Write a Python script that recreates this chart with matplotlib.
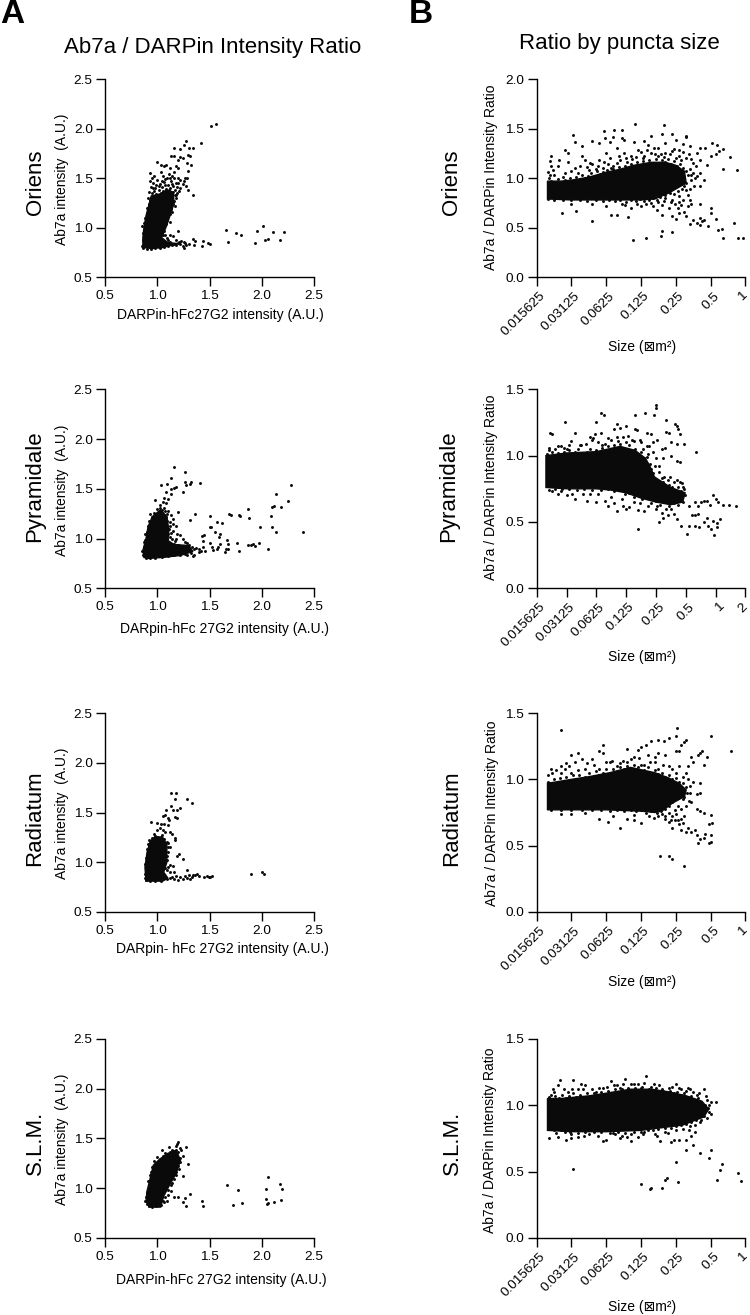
import numpy as np
import matplotlib
matplotlib.use("Agg")
import matplotlib.pyplot as plt
from matplotlib.transforms import ScaledTranslation

plt.rcParams['font.family'] = ['Liberation Sans', 'DejaVu Sans']

W, H = 750, 1315

row_names = ['Oriens', 'Pyramidale', 'Radiatum', 'S.L.M.']
a_xlabels = ['DARPin-hFc27G2 intensity (A.U.)', 'DARpin-hFc 27G2 intensity (A.U.)',
             'DARpin- hFc 27G2 intensity (A.U.)', 'DARPin-hFc 27G2 intensity (A.U.)']
a_ticks = [0.5, 1.0, 1.5, 2.0, 2.5]
b_size_labels = ['0.015625', '0.03125', '0.0625', '0.125', '0.25', '0.5', '1', '2']

# the solid black middle of each cloud can't be read point by point,
# so it is an outline, the loose dots are listed one by one

# panel A: (DARPin intensity, Ab7a intensity)
oriens_a_core = [(0.86,0.80),(0.86,0.90),(0.87,1.00),(0.89,1.12),(0.92,1.24),(0.94,1.32),(1.02,1.34),(1.09,1.38),(1.15,1.36),
                 (1.16,1.25),(1.12,1.12),(1.08,1.00),(1.04,0.90),(1.10,0.85),(1.20,0.84),(1.05,0.80),(0.95,0.79)]
oriens_a_pts = [(1.51,2.03),(1.56,2.05),(1.42,1.85),(1.27,1.87),(1.25,1.83),(1.30,1.80),(1.34,1.80),(1.16,1.80),(1.22,1.79),
                (1.13,1.72),(1.16,1.72),(1.22,1.71),(1.24,1.70),(1.29,1.73),(1.31,1.72),(1.20,1.68),(1.28,1.65),(1.32,1.63),
                (1.29,1.57),(1.34,1.33),(1.00,1.66),(1.03,1.63),(1.06,1.62),(1.08,1.63),(1.12,1.60),(1.18,1.62),(1.20,1.60),
                (1.16,1.56),(1.14,1.52),(1.20,1.50),(1.22,1.48),(1.25,1.47),(1.26,1.50),(1.28,1.50),(1.20,1.45),(1.24,1.44),
                (1.27,1.42),(1.29,1.38),(0.93,1.55),(0.97,1.52),(1.03,1.56),(1.05,1.52),(0.95,1.50),(0.93,1.47),(0.96,1.45),
                (1.00,1.48),(1.02,1.44),(1.06,1.46),(1.09,1.50),(1.11,1.54),(1.13,1.47),(1.16,1.50),(1.18,1.45),(1.15,1.42),
                (0.94,1.41),(0.98,1.40),(1.01,1.38),(1.04,1.41),(1.07,1.43),(1.10,1.43),(1.12,1.40),(1.17,1.38),(1.19,1.35),
                (0.92,1.36),(0.95,1.35),(1.18,1.30),(1.17,1.22),(1.14,1.16),(1.12,1.06),(0.90,1.20),(0.88,1.10),(0.85,1.02),
                (1.66,0.98),(1.68,0.86),(1.75,0.95),(1.80,0.93),(1.93,0.85),(1.95,0.97),(2.01,1.02),(2.03,0.88),(2.06,0.89),
                (2.11,0.96),(2.17,0.88),(2.21,0.96),(1.50,0.84),(1.48,0.85),(1.43,0.82),(1.44,0.87),(1.34,0.89),(1.36,0.87),
                (1.35,0.83),(1.30,0.84),(1.27,0.83),(1.25,0.86),(1.25,0.80),(1.22,0.84),(1.23,0.87),(1.20,0.85),(1.20,0.97),
                (1.15,0.92),(1.12,0.93),(1.10,0.88),(1.18,0.88),(1.16,0.84),(1.26,0.85),(1.24,0.82),(1.14,0.83),(1.07,0.93),
                (0.95,1.32),(0.97,1.37),(0.99,1.34),(1.01,1.42),(1.03,1.35),(1.05,1.37),(1.06,1.33),(1.08,1.39),(1.10,1.35),
                (1.11,1.38),(1.13,1.34),(1.15,1.36),(1.17,1.33),(1.14,1.31),(1.16,1.27),(1.15,1.24),(1.13,1.19),(1.12,1.14),
                (1.10,1.13),(1.09,1.08),(1.08,1.04),(1.06,0.97),(1.05,0.93),(1.03,0.88),(0.93,1.28),(0.92,1.24),(0.91,1.30),
                (0.90,1.15),(0.89,1.06),(0.87,1.05),(0.86,0.95),(0.86,0.88),(0.85,0.82),(0.86,0.80),(0.90,0.79),(0.94,0.79),
                (0.98,0.80),(1.02,0.80),(1.06,0.81),(1.10,0.82),(1.18,0.83),(1.21,0.86),(1.12,0.86),(1.09,0.90),(1.04,1.47),
                (0.99,1.43),(0.96,1.40),(1.07,1.49),(1.12,1.50),(1.14,1.44),(1.19,1.41),(1.22,1.40),(1.21,1.37),(1.18,1.33)]

pyr_a_core = [(0.87,0.81),(0.86,0.88),(0.89,1.00),(0.91,1.12),(0.95,1.22),(1.03,1.29),(1.09,1.22),(1.11,1.08),(1.10,0.98),
              (1.16,0.94),(1.30,0.93),(1.34,0.87),(1.22,0.83),(1.05,0.81),(0.91,0.80)]
pyr_a_pts = [(1.16,1.72),(1.26,1.67),(1.13,1.61),(1.26,1.57),(1.32,1.57),(1.41,1.56),(1.31,1.55),(1.03,1.54),(1.09,1.55),
             (1.16,1.51),(1.18,1.52),(1.13,1.50),(1.24,1.47),(1.27,1.54),(1.08,1.47),(1.13,1.45),(1.06,1.41),(1.10,1.40),
             (0.98,1.39),(1.05,1.37),(1.08,1.36),(1.02,1.34),(1.06,1.31),(1.10,1.28),(1.20,1.27),(1.36,1.25),(1.50,1.23),
             (1.31,1.19),(1.15,1.20),(1.12,1.17),(1.18,1.13),(1.15,1.08),(1.22,1.04),(1.12,1.02),(1.18,1.00),(1.26,0.97),
             (1.45,1.04),(1.43,1.03),(1.50,1.12),(1.51,1.12),(1.57,1.17),(1.62,1.16),(1.55,1.07),(1.60,1.05),(1.59,1.02),
             (1.44,0.98),(1.50,0.96),(1.60,0.95),(1.67,0.99),(1.68,0.95),(1.76,0.96),(1.69,1.25),(1.70,1.24),(1.78,1.24),
             (1.79,1.23),(1.87,1.30),(1.88,1.21),(1.98,1.12),(2.09,1.23),(2.10,1.12),(2.10,1.32),(2.12,1.33),(2.14,1.07),
             (2.14,1.45),(2.18,1.32),(2.25,1.38),(2.28,1.54),(2.39,1.07),(2.06,0.89),(1.78,0.87),(1.87,0.94),(1.90,0.94),
             (1.92,0.95),(1.93,0.93),(1.97,0.96),(1.42,0.87),(1.46,0.87),(1.52,0.92),(1.53,0.88),(1.57,0.90),(1.58,0.92),
             (1.65,0.86),(1.66,0.89),(1.68,0.90),(1.35,0.83),(1.40,0.90),(1.37,0.91),(1.34,0.82),(1.28,0.83),(0.88,1.05),
             (0.87,0.97),(0.92,1.18),(0.93,1.25),(1.00,1.30),(1.12,1.13),(1.14,1.00),(1.40,0.86),(1.44,0.92),
             (0.95,1.22),(0.97,1.26),(0.99,1.24),(1.01,1.27),(1.04,1.26),(1.06,1.24),(1.08,1.22),(1.09,1.18),(1.11,1.10),
             (1.10,1.05),(1.13,1.06),(1.09,1.00),(1.11,0.96),(1.16,0.95),(1.20,0.94),(1.24,0.93),(1.30,0.94),(1.33,0.92),
             (1.35,0.89),(1.32,0.85),(1.26,0.84),(1.22,0.83),(1.16,0.83),(1.10,0.82),(1.04,0.81),(0.98,0.80),(0.93,0.80),
             (0.89,0.80),(0.86,0.83),(0.85,0.87),(0.87,0.92),(0.88,0.99),(0.90,1.07),(0.91,1.13),(0.94,1.15),(1.02,1.31),
             (1.04,1.29),(1.07,1.28),(1.09,1.25),(1.13,1.24),(1.15,1.15),(1.19,1.05),(1.24,1.00),(1.17,0.98),(1.28,0.96)]

rad_a_core = [(0.89,0.81),(0.88,0.95),(0.90,1.10),(0.93,1.21),(0.98,1.26),(1.05,1.25),(1.09,1.18),(1.09,1.00),(1.06,0.90),
              (1.10,0.84),(1.05,0.81)]
rad_a_pts = [(1.13,1.70),(1.18,1.70),(1.17,1.64),(1.28,1.64),(1.33,1.60),(1.13,1.57),(1.08,1.53),(1.15,1.53),(1.19,1.53),
             (1.22,1.55),(1.07,1.47),(1.05,1.46),(1.10,1.44),(1.17,1.45),(1.19,1.44),(1.11,1.42),(0.94,1.40),(1.00,1.39),
             (1.03,1.38),(1.06,1.38),(1.10,1.37),(1.02,1.34),(1.00,1.32),(1.05,1.32),(1.07,1.30),(1.12,1.30),(1.14,1.28),
             (0.97,1.28),(1.04,1.27),(1.17,1.24),(1.17,1.22),(1.10,1.19),(1.12,1.15),(1.10,1.10),(1.09,1.06),(1.21,1.08),
             (1.19,1.06),(1.24,1.03),(1.12,0.97),(1.15,0.96),(1.10,0.95),(1.28,0.92),(1.12,0.90),(1.16,0.90),(1.90,0.88),
             (2.00,0.90),(2.02,0.88),(1.49,0.85),(1.50,0.85),(1.47,0.86),(1.45,0.85),(1.52,0.86),(1.38,0.88),(1.36,0.87),
             (1.33,0.85),(1.30,0.87),(1.28,0.84),(1.26,0.86),(1.22,0.85),(1.20,0.82),(1.18,0.86),(1.14,0.85),(1.12,0.84),
             (1.16,0.83),(1.24,0.83),(1.31,0.83),(1.34,0.87),(1.40,0.86),(0.88,0.88),(0.88,0.98),(0.90,1.13),(0.92,1.22),
             (0.95,1.24),(0.98,1.26),(1.01,1.24),(1.03,1.25),(1.06,1.23),(1.09,1.20),(1.10,1.15),(1.09,1.02),(1.07,0.94),
             (1.09,0.92),(1.06,0.87),(1.09,0.83),(1.03,0.81),(0.98,0.81),(0.93,0.81),(0.89,0.82),(0.88,0.84),(0.89,0.93),
             (0.89,1.04),(0.91,1.18)]

slm_a_core = [(0.92,0.81),(0.89,0.87),(0.90,0.97),(0.93,1.10),(0.96,1.23),(1.02,1.29),(1.10,1.35),(1.18,1.38),(1.22,1.28),
              (1.18,1.15),(1.11,1.02),(1.06,0.92),(1.03,0.81)]
slm_a_pts = [(1.20,1.46),(1.19,1.44),(1.27,1.41),(1.22,1.40),(1.11,1.41),(1.04,1.38),(1.18,1.42),(1.23,1.38),(1.24,1.32),
             (1.29,1.24),(1.24,1.12),(1.18,1.13),(1.14,1.05),(1.12,1.10),(1.31,0.94),(1.26,0.90),(1.24,0.86),(1.27,0.82),
             (1.20,0.91),(1.16,0.91),(1.10,0.93),(1.13,0.97),(1.09,0.87),(1.06,0.86),(1.43,0.87),(1.44,0.82),(1.67,1.03),
             (1.77,0.98),(1.72,0.83),(1.81,0.85),(2.04,0.99),(2.06,1.11),(2.04,0.89),(2.05,0.84),(2.06,0.85),(2.12,0.86),
             (2.17,1.04),(2.18,0.88),(2.19,0.99),(0.88,0.87),(0.90,0.84),(0.92,1.02),(0.94,1.16),(0.97,1.27),(1.00,1.31),
             (1.07,1.35),(1.14,1.38),(1.22,1.30),(1.20,1.22),
             (0.89,0.91),(0.90,0.96),(0.91,1.07),(0.93,1.13),(0.95,1.21),(0.99,1.25),(1.02,1.29),(1.05,1.32),(1.09,1.34),
             (1.12,1.36),(1.16,1.37),(1.20,1.36),(1.22,1.26),(1.21,1.19),(1.18,1.16),(1.16,1.09),(1.13,1.03),(1.10,0.98),
             (1.07,0.91),(1.05,0.87),(1.03,0.83),(0.99,0.82),(0.95,0.81),(0.92,0.82),(1.18,1.38),(1.15,1.33),(1.01,1.27)]

# panel B: (log2 of size, ratio)
oriens_b_core = [(-5.69,0.97),(-5.3,0.97),(-5.0,0.98),(-4.5,1.01),(-4.0,1.06),(-3.6,1.09),(-3.2,1.13),(-2.7,1.16),(-2.3,1.16),
                 (-2.0,1.13),(-1.75,1.07),(-1.7,0.95),(-2.2,0.85),(-2.6,0.79),(-3.0,0.78),(-3.5,0.78),(-4.0,0.78),(-5.0,0.78),(-5.69,0.79)]
oriens_b_pts = [(-3.18,1.55),(-2.33,1.54),(-4.95,1.44),(-4.06,1.48),(-3.78,1.49),(-3.56,1.49),(-4.03,1.40),(-3.8,1.42),(-3.55,1.40),
                (-3.5,1.38),(-2.7,1.43),(-2.4,1.45),(-2.1,1.45),(-1.7,1.43),(-1.7,1.41),(-4.4,1.37),(-4.9,1.36),(-5.2,1.28),
                (-5.1,1.25),(-4.7,1.32),(-4.2,1.35),(-3.9,1.36),(-3.7,1.30),(-3.2,1.36),(-2.9,1.37),(-2.8,1.33),(-2.5,1.30),
                (-2.3,1.35),(-2.0,1.38),(-1.8,1.34),(-1.6,1.32),(-1.3,1.30),(-1.4,1.25),(-1.15,1.30),(-0.95,1.35),(-0.8,1.33),
                (-0.75,1.27),(-0.65,1.29),(-0.44,1.21),(-0.63,1.09),(-0.25,1.08),(-0.85,1.24),(-1.0,1.22),(-5.6,1.22),(-5.62,1.17),
                (-5.35,1.18),(-5.6,1.12),(-5.4,1.12),(-5.1,1.16),(-4.9,1.10),(-4.7,1.22),(-4.6,1.18),(-4.4,1.14),(-4.2,1.18),
                (-4.0,1.25),(-3.9,1.20),(-3.7,1.15),(-3.5,1.25),(-3.3,1.22),(-3.1,1.28),(-2.9,1.22),(-2.7,1.25),(-2.5,1.22),
                (-2.3,1.25),(-2.1,1.27),(-1.9,1.22),(-1.7,1.20),(-1.5,1.15),(-1.3,1.18),(-1.1,1.13),(-1.3,1.05),(-1.5,1.05),
                (-1.45,1.0),(-1.2,0.98),(-1.3,0.92),(-5.5,1.03),(-5.2,1.05),(-4.8,1.05),(-4.5,1.08),(-4.1,1.10),(-3.8,1.12),
                (-3.4,1.16),(-5.27,0.645),(-4.88,0.67),(-4.42,0.57),(-3.86,0.63),(-3.7,0.63),(-3.36,0.61),(-3.22,0.38),(-2.85,0.40),
                (-2.43,0.42),(-2.41,0.47),(-2.1,0.46),(-0.65,0.40),(-0.2,0.40),(-0.08,0.40),(-0.33,0.545),(-0.83,0.59),(-0.78,0.48),
                (-0.68,0.49),(-1.08,0.52),(-1.6,0.54),(-1.5,0.58),(-1.4,0.55),(-1.3,0.60),(-1.25,0.57),(-1.2,0.58),(-1.3,0.53),
                (-1.7,0.62),(-1.9,0.65),(-2.1,0.62),(-2.0,0.59),(-2.4,0.63),(-1.95,0.70),(-1.75,0.66),(-1.65,0.72),(-1.55,0.74),
                (-1.3,0.74),(-1.0,0.70),(-1.0,0.65),(-2.2,0.70),(-2.4,0.73),(-2.55,0.68),(-2.7,0.75),(-3.0,0.72),(-3.3,0.70),
                (-3.55,0.74),(-2.3,0.80),(-2.1,0.78),(-1.9,0.82),(-1.7,0.88),(-4.4,0.74),(-5.0,0.74),(-4.0,0.72),
                (-5.66,1.00),(-5.58,0.97),(-5.47,0.96),(-5.38,0.99),(-5.29,0.95),(-5.2,0.98),(-5.12,0.96),(-5.03,1.00),(-4.95,0.97),
                (-4.86,1.01),(-4.78,0.98),(-4.69,1.03),(-4.6,1.00),(-4.52,1.02),(-4.43,1.05),(-4.33,1.01),(-4.26,1.07),(-4.17,1.04),
                (-4.08,1.06),(-3.98,1.08),(-3.9,1.05),(-3.81,1.09),(-3.72,1.07),(-3.64,1.11),(-3.55,1.09),(-3.46,1.12),(-3.37,1.10),
                (-3.29,1.14),(-3.2,1.12),(-3.11,1.16),(-3.02,1.13),(-2.94,1.17),(-2.85,1.14),(-2.76,1.18),(-2.67,1.15),(-2.58,1.19),
                (-2.5,1.15),(-2.41,1.18),(-2.32,1.16),(-2.23,1.19),(-2.14,1.14),(-2.06,1.17),(-1.97,1.12),(-1.88,1.14),(-1.8,1.10),
                (-1.72,1.07),(-1.66,1.03),(-1.6,1.09),(-1.56,0.98),(-1.7,0.95),(-1.75,0.92),(-1.82,0.89),(-1.93,0.87),(-2.05,0.84),
                (-2.18,0.85),(-2.3,0.83),(-2.44,0.81),(-2.55,0.78),(-2.66,0.80),(-2.78,0.78),(-2.9,0.77),(-3.03,0.79),(-3.15,0.77),
                (-3.3,0.78),(-3.42,0.76),(-3.6,0.78),(-3.75,0.77),(-3.92,0.78),(-4.1,0.77),(-4.3,0.78),(-4.55,0.77),(-4.75,0.78),
                (-5.0,0.78),(-5.25,0.78),(-5.5,0.78),(-5.67,0.79),(-5.68,0.84),(-5.68,0.90),(-5.67,1.06),(-5.62,1.03),(-4.55,1.11),
                (-4.25,1.12),(-3.95,1.14),(-3.6,1.18),(-3.25,1.19),(-2.95,1.20),(-2.6,1.24),(-2.35,1.21),(-2.0,1.20),(-1.85,1.18),
                (-5.52,1.08),(-5.25,1.01),(-5.0,1.07),(-4.75,1.12),(-4.48,1.15),(-4.3,1.09),(-4.05,1.16),(-3.85,1.10),(-3.62,1.22),
                (-3.42,1.20),(-3.15,1.21),(-3.0,1.26),(-2.82,1.28),(-2.62,1.30),(-2.42,1.24),(-2.18,1.24),(-2.05,1.29),(-1.92,1.28),
                (-1.78,1.26),(-1.62,1.24),(-1.55,1.19),(-1.42,1.12),(-1.38,1.02),(-1.55,1.03),(-1.48,0.92),(-1.58,0.89),(-1.65,0.83),
                (-1.78,0.78),(-1.9,0.76),(-2.02,0.74),(-2.15,0.76),(-2.35,0.77),(-2.5,0.76),(-2.65,0.72),(-2.85,0.74),(-3.12,0.74),
                (-3.45,0.73),(-1.85,0.73),(-1.6,0.78)]

pyr_b_core = [(-5.69,1.00),(-5.0,1.02),(-4.0,1.03),(-3.2,1.07),(-2.7,1.04),(-2.35,0.98),(-2.2,0.92),(-2.05,0.84),(-1.5,0.76),
              (-1.02,0.72),(-1.1,0.65),(-1.5,0.63),(-2.0,0.65),(-2.5,0.68),(-3.0,0.72),(-3.5,0.74),(-4.0,0.75),(-5.0,0.75),(-5.69,0.76)]
pyr_b_pts = [(-2.0,1.38),(-1.98,1.36),(-2.35,1.32),(-2.05,1.31),(-2.7,1.31),(-3.85,1.32),(-3.75,1.31),(-4.0,1.25),(-5.05,1.25),
             (-5.55,1.17),(-5.5,1.16),(-4.7,1.17),(-4.05,1.16),(-3.85,1.17),(-4.2,1.14),(-4.1,1.13),(-3.3,1.24),(-3.4,1.20),
             (-3.2,1.21),(-3.0,1.22),(-2.7,1.20),(-2.65,1.19),(-2.3,1.17),(-2.15,1.16),(-1.65,1.27),(-1.65,1.18),(-1.55,1.17),
             (-1.35,1.24),(-1.3,1.22),(-1.25,1.20),(-1.2,1.16),(-1.05,1.09),(-0.65,1.03),(-1.3,1.09),(-1.5,1.10),(-1.8,1.05),
             (-1.95,1.12),(-2.1,1.10),(-2.3,1.07),(-1.7,1.06),(-1.5,1.00),(-1.3,0.96),(-1.2,0.95),(-1.75,0.98),(-1.9,0.92),
             (-2.0,0.98),(-2.1,1.03),(-2.5,1.10),(-2.8,1.12),(-3.0,1.10),(-3.3,1.14),(-3.6,1.13),(-3.8,1.08),(-4.5,1.08),
             (-4.9,1.08),(-5.2,1.07),(-5.6,1.06),(-5.4,1.05),(-5.0,1.05),(-4.6,1.05),(-4.2,1.05),(-1.8,0.83),(-1.6,0.82),
             (-1.4,0.80),(-1.2,0.80),(-1.1,0.76),(-1.05,0.75),(-0.9,0.62),(-0.7,0.65),(-0.6,0.62),(-0.5,0.65),(-0.4,0.66),
             (-0.3,0.66),(-0.2,0.63),(-0.1,0.70),(0.0,0.67),(0.1,0.65),(0.25,0.63),(0.45,0.63),(0.7,0.62),(-0.9,0.47),
             (-0.95,0.41),(-0.7,0.47),(-0.55,0.46),(-0.4,0.50),(-0.3,0.53),(-0.25,0.47),(-0.15,0.45),(-0.1,0.51),(-0.05,0.40),
             (0.05,0.46),(0.05,0.49),(0.15,0.52),(-0.8,0.55),(-0.7,0.55),(-0.6,0.56),(-1.15,0.47),(-1.3,0.52),(-1.4,0.56),
             (-1.6,0.55),(-1.8,0.57),(-1.9,0.50),(-1.75,0.53),(-2.6,0.45),(-2.0,0.60),(-2.4,0.58),(-2.6,0.59),(-3.0,0.60),
             (-3.3,0.58),(-3.1,0.62),(-2.9,0.61),(-3.6,0.62),(-3.4,0.64),(-3.7,0.66),(-4.0,0.65),(-4.3,0.66),(-4.7,0.67),
             (-5.0,0.70),(-5.3,0.71),(-5.5,0.73),(-4.45,0.71),
             (-5.66,1.01),(-5.57,0.98),(-5.47,1.03),(-5.38,0.99),(-5.28,1.02),(-5.18,1.00),(-5.09,1.03),(-5.0,1.01),(-4.9,1.04),
             (-4.8,1.00),(-4.7,1.03),(-4.6,0.99),(-4.5,1.02),(-4.4,1.01),(-4.3,1.03),(-4.2,1.00),(-4.1,1.02),(-4.0,1.04),
             (-3.9,1.03),(-3.8,1.06),(-3.7,1.03),(-3.6,1.07),(-3.5,1.05),(-3.4,1.08),(-3.3,1.05),(-3.2,1.09),(-3.1,1.06),
             (-3.0,1.05),(-2.9,1.08),(-2.8,1.03),(-2.7,1.05),(-2.6,1.00),(-2.5,1.03),(-2.4,0.98),(-2.3,0.99),(-2.2,0.94),
             (-2.15,0.90),(-2.1,0.87),(-2.05,0.83),(-1.95,0.80),(-1.85,0.78),(-1.75,0.80),(-1.65,0.76),(-1.55,0.78),(-1.45,0.76),
             (-1.35,0.74),(-1.25,0.76),(-1.15,0.73),(-1.02,0.70),(-1.1,0.65),(-1.25,0.63),(-1.4,0.64),(-1.55,0.62),(-1.7,0.65),
             (-1.85,0.63),(-2.0,0.66),(-2.15,0.64),(-2.3,0.68),(-2.45,0.67),(-2.6,0.70),(-2.75,0.69),(-2.9,0.72),(-3.05,0.71),
             (-3.2,0.74),(-3.4,0.73),(-3.6,0.75),(-3.85,0.74),(-4.15,0.74),(-4.4,0.75),(-4.65,0.74),(-4.9,0.75),(-5.15,0.75),
             (-5.4,0.75),(-5.6,0.74),(-5.67,0.80),(-5.67,0.90),(-2.5,0.92),(-2.4,0.86),
             (-5.58,1.04),(-5.3,1.07),(-5.1,1.06),(-4.85,1.11),(-4.55,1.08),(-4.35,1.09),(-4.15,1.12),(-3.95,1.10),(-3.72,1.09),
             (-3.52,1.12),(-3.27,1.11),(-3.12,1.14),(-2.93,1.15),(-2.72,1.11),(-2.55,1.12),(-2.42,1.05),(-2.22,1.07),(-2.28,1.01),
             (-2.02,0.92),(-1.88,0.88),(-1.72,0.84),(-1.52,0.84),(-1.28,0.82),(-1.12,0.79),(-1.5,0.60),(-1.65,0.60),(-1.95,0.62),
             (-2.25,0.62),(-2.55,0.64),(-2.75,0.65),(-3.15,0.67),(-3.5,0.69),(-3.95,0.71),(-4.2,0.71),(-4.8,0.71),(-5.2,0.73)]

rad_b_core = [(-5.69,0.97),(-5.0,1.00),(-4.5,1.02),(-3.9,1.05),(-3.3,1.09),(-2.6,1.05),(-2.2,1.01),(-1.9,0.97),(-1.7,0.92),
              (-1.75,0.87),(-2.1,0.82),(-2.4,0.76),(-2.6,0.75),(-3.0,0.76),(-4.0,0.77),(-5.69,0.77)]
rad_b_pts = [(-5.3,1.37),(-1.97,1.39),(-2.0,1.33),(-0.98,1.33),(-0.42,1.21),(-1.7,1.30),(-1.75,1.28),(-1.85,1.26),(-2.2,1.31),
             (-2.35,1.29),(-2.5,1.30),(-2.7,1.29),(-2.85,1.26),(-3.0,1.24),(-3.1,1.22),(-3.4,1.23),(-4.1,1.26),(-4.1,1.20),
             (-5.0,1.18),(-4.8,1.20),(-4.2,1.21),(-1.9,1.21),(-2.0,1.21),(-1.3,1.20),(-1.35,1.18),(-1.25,1.21),(-1.55,1.17),
             (-1.1,1.17),(-1.2,1.11),(-1.5,1.13),(-1.65,1.10),(-2.3,1.18),(-2.5,1.20),(-2.6,1.17),(-2.8,1.18),(-3.2,1.17),
             (-3.6,1.12),(-3.9,1.13),(-4.4,1.15),(-4.7,1.15),(-4.9,1.13),(-5.15,1.12),(-5.3,1.10),(-5.6,1.08),(-5.55,1.05),
             (-5.3,1.05),(-5.0,1.05),(-4.6,1.08),(-4.2,1.08),(-3.7,1.10),(-3.4,1.13),(-2.9,1.11),(-2.5,1.08),(-2.2,1.10),
             (-2.0,1.05),(-1.8,1.02),(-1.65,1.00),(-1.5,0.98),(-1.3,0.97),(-1.3,0.90),(-1.4,0.89),(-1.6,0.90),(-1.55,0.83),
             (-1.8,0.85),(-1.95,0.80),(-1.4,0.78),(-1.3,0.76),(-1.2,0.75),(-1.0,0.73),(-1.05,0.66),(-0.95,0.67),(-0.98,0.58),
             (-1.0,0.53),(-1.05,0.52),(-1.2,0.56),(-1.15,0.59),(-1.3,0.55),(-1.35,0.52),(-1.4,0.58),(-1.45,0.62),(-1.55,0.60),
             (-1.7,0.60),(-1.65,0.63),(-1.85,0.62),(-1.9,0.66),(-2.1,0.63),(-1.85,0.70),(-1.75,0.72),(-2.0,0.74),(-2.1,0.72),
             (-2.3,0.72),(-2.4,0.74),(-2.5,0.72),(-2.2,0.68),(-2.03,0.69),(-2.45,0.42),(-2.2,0.42),(-2.1,0.40),(-1.75,0.35),
             (-5.3,0.74),(-5.0,0.74),(-4.2,0.70),(-3.95,0.68),(-3.6,0.63),(-3.4,0.70),(-3.2,0.69),(-3.0,0.67),(-3.2,0.73),
             (-3.8,0.72),(-4.6,0.75),
             (-5.67,0.98),(-5.6,0.95),(-5.5,1.00),(-5.42,0.97),(-5.33,1.01),(-5.24,0.98),(-5.15,1.02),(-5.06,0.99),(-4.97,1.03),
             (-4.88,1.00),(-4.78,1.03),(-4.69,1.00),(-4.6,1.02),(-4.5,1.05),(-4.4,1.02),(-4.3,1.06),(-4.2,1.03),(-4.1,1.05),
             (-4.0,1.08),(-3.9,1.05),(-3.8,1.08),(-3.7,1.06),(-3.6,1.09),(-3.5,1.08),(-3.4,1.10),(-3.3,1.08),(-3.2,1.11),
             (-3.1,1.09),(-3.0,1.11),(-2.9,1.07),(-2.8,1.09),(-2.7,1.05),(-2.6,1.07),(-2.5,1.04),(-2.4,1.05),(-2.3,1.02),
             (-2.2,1.03),(-2.1,1.00),(-2.0,1.01),(-1.9,0.98),(-1.8,0.97),(-1.72,0.94),(-1.68,0.90),(-1.75,0.87),(-1.85,0.88),
             (-1.98,0.86),(-2.1,0.83),(-2.2,0.80),(-2.3,0.78),(-2.42,0.76),(-2.55,0.75),(-2.7,0.76),(-2.85,0.75),(-3.0,0.77),
             (-3.15,0.76),(-3.3,0.77),(-3.5,0.76),(-3.7,0.77),(-3.9,0.76),(-4.15,0.77),(-4.4,0.77),(-4.7,0.77),(-5.0,0.77),
             (-5.3,0.77),(-5.6,0.77),(-5.68,0.82),(-5.68,0.88),(-5.67,1.03),
             (-5.45,1.07),(-5.2,1.08),(-5.08,1.10),(-4.82,1.07),(-4.55,1.12),(-4.35,1.11),(-4.02,1.13),(-3.82,1.14),(-3.52,1.14),
             (-3.3,1.15),(-3.05,1.16),(-2.75,1.13),(-2.6,1.13),(-2.38,1.11),(-2.12,1.08),(-1.92,1.10),(-1.72,1.05),(-1.58,0.95),
             (-1.62,0.84),(-1.7,0.80),(-1.85,0.78),(-2.02,0.77),(-2.2,0.75),(-2.32,0.70),(-2.15,0.69),(-1.95,0.69),(-1.8,0.67),
             (-2.62,0.71),(-2.78,0.72)]

slm_b_core = [(-5.69,1.05),(-5.3,1.05),(-4.5,1.07),(-4.0,1.09),(-3.3,1.12),(-2.7,1.12),(-2.2,1.10),(-1.7,1.07),(-1.25,1.03),
              (-1.05,0.97),(-1.2,0.91),(-1.8,0.85),(-2.4,0.83),(-3.0,0.81),(-4.0,0.80),(-5.0,0.80),(-5.69,0.81)]
slm_b_pts = [(-5.33,1.19),(-4.95,1.19),(-3.85,1.18),(-3.45,1.20),(-3.1,1.16),(-2.85,1.22),(-2.0,1.16),(-1.65,1.13),(-1.2,1.12),
             (-4.72,1.16),(-4.6,1.15),(-4.8,1.12),(-5.4,1.15),(-5.5,1.10),(-5.6,1.08),(-5.1,1.10),(-4.3,1.10),(-4.1,1.13),
             (-3.7,1.15),(-3.6,1.13),(-3.3,1.16),(-3.0,1.13),(-2.7,1.14),(-2.4,1.12),(-2.2,1.13),(-1.85,1.12),(-1.5,1.10),
             (-1.4,1.08),(-1.0,1.02),(-1.05,1.00),(-0.85,1.02),(-1.1,1.04),(-1.0,0.93),(-1.1,0.90),(-1.3,0.87),(-1.6,0.84),
             (-1.8,0.82),(-2.0,0.81),(-2.3,0.80),(-2.55,0.77),(-2.45,0.73),(-2.15,0.72),(-2.05,0.74),(-1.9,0.74),(-1.7,0.74),
             (-1.55,0.77),(-1.45,0.80),(-1.5,0.70),(-1.7,0.66),(-1.3,0.64),(-1.05,0.60),(-1.0,0.66),(-2.0,0.57),(-1.95,0.42),
             (-2.3,0.44),(-2.25,0.45),(-2.4,0.38),(-2.75,0.37),(-2.7,0.38),(-3.0,0.41),(-5.0,0.75),(-5.65,0.75),(-5.4,0.76),
             (-5.15,0.74),(-4.95,0.52),(-4.8,0.76),(-4.1,0.73),(-4.0,0.74),(-3.6,0.75),(-3.4,0.76),(-3.3,0.73),(-3.3,0.78),
             (-3.1,0.76),(-2.95,0.78),(-2.9,0.80),(-0.8,0.44),(-0.73,0.51),(-0.68,0.56),(-0.2,0.49),(-0.13,0.43),(-4.5,0.78),
             (-5.2,0.80),(-4.8,0.79),(-3.8,0.79),
             (-5.66,1.06),(-5.56,1.04),(-5.46,1.07),(-5.36,1.05),(-5.26,1.08),(-5.16,1.05),(-5.06,1.07),(-4.96,1.09),(-4.86,1.06),
             (-4.76,1.08),(-4.66,1.06),(-4.56,1.09),(-4.46,1.07),(-4.36,1.09),(-4.26,1.07),(-4.16,1.10),(-4.06,1.08),(-3.96,1.11),
             (-3.86,1.09),(-3.76,1.12),(-3.66,1.10),(-3.56,1.12),(-3.46,1.11),(-3.36,1.13),(-3.26,1.11),(-3.16,1.13),(-3.06,1.11),
             (-2.96,1.14),(-2.86,1.11),(-2.76,1.12),(-2.66,1.10),(-2.56,1.13),(-2.46,1.10),(-2.36,1.11),(-2.26,1.09),(-2.16,1.11),
             (-2.06,1.09),(-1.96,1.10),(-1.86,1.08),(-1.76,1.09),(-1.66,1.06),(-1.56,1.07),(-1.46,1.04),(-1.36,1.05),(-1.26,1.02),
             (-1.16,1.00),(-1.08,0.98),(-1.05,0.95),(-1.18,0.92),(-1.28,0.89),(-1.42,0.89),(-1.55,0.87),(-1.7,0.86),(-1.85,0.85),
             (-2.0,0.84),(-2.15,0.83),(-2.3,0.83),(-2.5,0.82),(-2.65,0.81),(-2.8,0.81),(-3.0,0.80),(-3.2,0.80),(-3.45,0.79),
             (-3.65,0.80),(-3.9,0.79),(-4.15,0.80),(-4.35,0.80),(-4.6,0.80),(-4.85,0.81),(-5.05,0.80),(-5.3,0.81),(-5.5,0.81),
             (-5.67,0.82),(-5.68,0.90),(-5.68,0.97),
             (-5.52,1.12),(-5.22,1.12),(-4.98,1.12),(-4.68,1.12),(-4.42,1.12),(-4.22,1.13),(-3.98,1.14),(-3.78,1.15),(-3.52,1.16),
             (-3.2,1.16),(-2.92,1.17),(-2.62,1.16),(-2.48,1.15),(-2.12,1.14),(-1.92,1.13),(-1.72,1.11),(-1.58,1.12),(-1.32,1.09),
             (-1.12,1.07),(-1.45,0.85),(-1.62,0.81),(-2.22,0.79),(-2.6,0.78),(-3.55,0.77),(-3.75,0.78),(-4.25,0.77),(-4.65,0.77),
             (-5.0,0.78),(-5.45,0.79)]

a_core = [oriens_a_core, pyr_a_core, rad_a_core, slm_a_core]
a_pts = [oriens_a_pts, pyr_a_pts, rad_a_pts, slm_a_pts]
b_core = [oriens_b_core, pyr_b_core, rad_b_core, slm_b_core]
b_pts = [oriens_b_pts, pyr_b_pts, rad_b_pts, slm_b_pts]
b_ymax = [2.0, 1.5, 1.5, 1.5]
b_xmax = [0, 1, 0, 0]

# pixel layout
rows_px = [(79, 277.3), (389.3, 588.3), (713, 912), (1038.7, 1238)]
a_xlab_px = [(220, 315), (224, 629), (222, 949), (221, 1280)]
a_ylab_py = [179, 490, 813, 1139]
row_py = [182, 486, 818, 1143]
b_row_x = [452, 449, 452, 452]
b_ylab_x = [491, 491, 492, 490]
b_ylab_py = [177, 487, 813, 1140]
b_xlab_py = [347, 657, 982, 1307]

TICK = 9.7
LAB = 10


def px_text(fig, x, y, s, **kw):
    kw.setdefault('ha', 'center')
    kw.setdefault('va', 'center')
    fig.text(x / W, 1 - y / H, s, **kw)


def make_ax(fig, left, right, top, bottom):
    ax = fig.add_axes([left / W, 1 - bottom / H, (right - left) / W, (bottom - top) / H])
    ax.spines['top'].set_visible(False)
    ax.spines['right'].set_visible(False)
    ax.spines['left'].set_linewidth(1.0)
    ax.spines['bottom'].set_linewidth(1.0)
    ax.tick_params(length=6.5, width=1.0, labelsize=TICK, pad=2.5, color='black')
    ax.minorticks_off()
    return ax


def draw_cloud(ax, core, pts, to_size=False):
    cx, cy = zip(*core)
    px, py = zip(*pts)
    cx, px = np.array(cx), np.array(px)
    if to_size:
        cx, px = 2.0 ** cx, 2.0 ** px
    ax.fill(cx, cy, color='#0a0a0a', lw=1.0, clip_on=False)
    ax.scatter(px, py, s=4.5, color='#0a0a0a', linewidths=0, clip_on=False)


fig = plt.figure(figsize=(W / 100, H / 100), dpi=100)

px_text(fig, 12, 23, 'A', fontsize=24, fontweight='bold', va='baseline')
px_text(fig, 421, 23, 'B', fontsize=24, fontweight='bold', va='baseline')
px_text(fig, 213, 47, 'Ab7a / DARPin Intensity Ratio', fontsize=16)
px_text(fig, 619, 44, 'Ratio by puncta size', fontsize=16)

shift = ScaledTranslation(2.5 / 100, 0, fig.dpi_scale_trans)
# the last label sits right at the figure edge, pull it back in
last_shift = ScaledTranslation(-4 / 100, 0, fig.dpi_scale_trans)

for i, (top, bottom) in enumerate(rows_px):
    ax = make_ax(fig, 105.3, 314, top, bottom)
    draw_cloud(ax, a_core[i], a_pts[i])
    ax.set_xlim(0.5, 2.5)
    ax.set_ylim(0.5, 2.5)
    ax.set_xticks(a_ticks)
    ax.set_yticks(a_ticks)
    ax.set_xticklabels(['%.1f' % t for t in a_ticks])
    ax.set_yticklabels(['%.1f' % t for t in a_ticks])
    px_text(fig, a_xlab_px[i][0], a_xlab_px[i][1], a_xlabels[i], fontsize=LAB)
    px_text(fig, 62, a_ylab_py[i], 'Ab7a intensity  (A.U.)', fontsize=LAB, rotation=90)
    px_text(fig, 35, row_py[i], row_names[i], fontsize=16, rotation=90)

    ax = make_ax(fig, 536.7, 745.3, top, bottom)
    draw_cloud(ax, b_core[i], b_pts[i], to_size=True)
    ax.set_xscale('log', base=2)
    exps = np.arange(-6, b_xmax[i] + 1)
    ax.set_xlim(2.0 ** -6, 2.0 ** b_xmax[i])
    ax.set_xticks(2.0 ** exps)
    ax.set_xticklabels(b_size_labels[:len(exps)], rotation=45, ha='right', va='top',
                       rotation_mode='anchor')
    xlabs = ax.get_xticklabels()
    for lab in xlabs[:-1]:
        lab.set_transform(lab.get_transform() + shift)
    xlabs[-1].set_transform(xlabs[-1].get_transform() + last_shift)
    ax.minorticks_off()
    ax.set_ylim(0, b_ymax[i])
    yt = np.arange(0, b_ymax[i] + 0.01, 0.5)
    ax.set_yticks(yt)
    ax.set_yticklabels(['%.1f' % t for t in yt])
    px_text(fig, 642, b_xlab_py[i], 'Size (\u22a0m\u00b2)', fontsize=LAB)
    px_text(fig, b_ylab_x[i], b_ylab_py[i], 'Ab7a / DARPin Intensity Ratio', fontsize=LAB, rotation=90)
    px_text(fig, b_row_x[i], row_py[i], row_names[i], fontsize=16, rotation=90)

fig.savefig('out.png', dpi=100)
